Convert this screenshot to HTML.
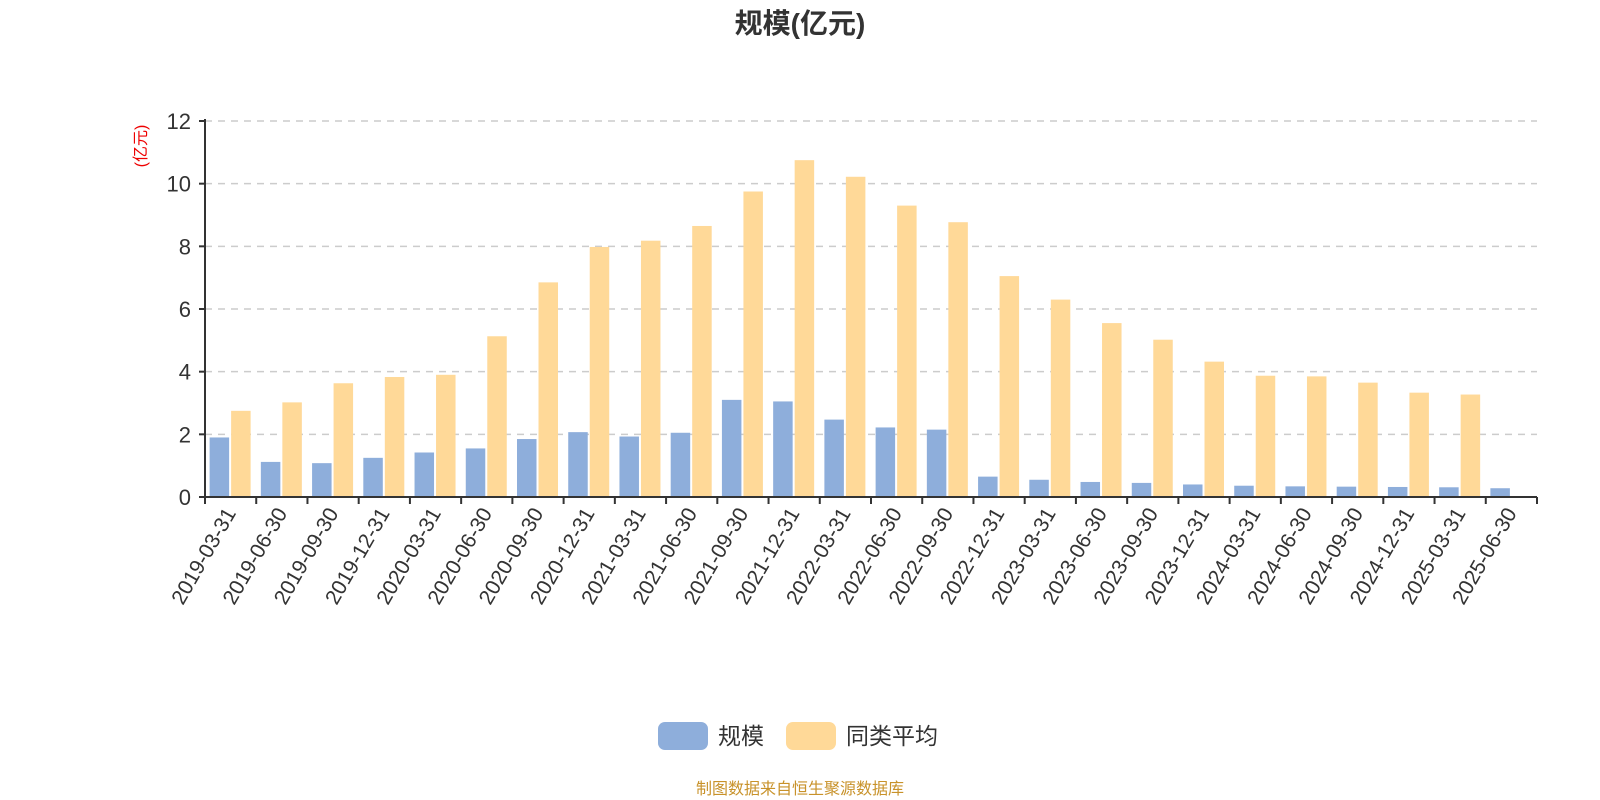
<!DOCTYPE html>
<html><head><meta charset="utf-8"><style>
body{margin:0;background:#fff;}
svg{display:block;font-family:"Liberation Sans","Noto Sans CJK SC",sans-serif;}
</style></head><body>
<svg id="chart" width="1600" height="800">
<text x="800" y="33" text-anchor="middle" font-size="28" font-weight="bold" fill="#333">规模(亿元)</text>
<text transform="translate(146,146) rotate(-90)" text-anchor="middle" font-size="16" fill="#e00">(亿元)</text>
<g id="grid"></g><g id="bars"></g><g id="axes"></g>
<g>
<rect x="658" y="722" width="50" height="28" rx="7" fill="#8eaedb"/>
<text x="718" y="744" font-size="23" fill="#333">规模</text>
<rect x="786" y="722" width="50" height="28" rx="7" fill="#ffd998"/>
<text x="846" y="744" font-size="23" fill="#333">同类平均</text>
</g>
<text x="800" y="794" text-anchor="middle" font-size="16" fill="#c8922a">制图数据来自恒生聚源数据库</text>
</svg>
<script>
const categories=["2019-03-31","2019-06-30","2019-09-30","2019-12-31","2020-03-31","2020-06-30","2020-09-30","2020-12-31","2021-03-31","2021-06-30","2021-09-30","2021-12-31","2022-03-31","2022-06-30","2022-09-30","2022-12-31","2023-03-31","2023-06-30","2023-09-30","2023-12-31","2024-03-31","2024-06-30","2024-09-30","2024-12-31","2025-03-31","2025-06-30"];
const scaleValues=[1.9,1.12,1.08,1.25,1.42,1.55,1.85,2.07,1.93,2.05,3.1,3.05,2.47,2.22,2.15,0.65,0.55,0.48,0.45,0.4,0.36,0.34,0.33,0.32,0.31,0.28];
const avgValues=[2.75,3.02,3.63,3.83,3.9,5.13,6.85,7.98,8.18,8.65,9.75,10.75,10.22,9.3,8.77,7.05,6.3,5.55,5.02,4.32,3.87,3.85,3.65,3.33,3.27,null];
const yTicks=[0,2,4,6,8,10,12];
const NS="http://www.w3.org/2000/svg";
const X0=205,X1=1537,Y0=497,Y1=121,YMAX=12;
const bw=(X1-X0)/categories.length;
function yScale(v){return Y0-(v/YMAX)*(Y0-Y1);}
function xCenter(i){return X0+bw*(i+0.5);}
function mk(tag,attrs,parent){const e=document.createElementNS(NS,tag);for(const k in attrs)e.setAttribute(k,attrs[k]);parent.appendChild(e);return e;}
const grid=document.getElementById('grid'),bars=document.getElementById('bars'),axes=document.getElementById('axes');
yTicks.forEach(t=>{
  const y=yScale(t);
  if(t>0){const l=mk('line',{x1:X0,x2:X1,y1:y,y2:y,stroke:'#ccc','stroke-width':1.5,'stroke-dasharray':'7,6'},grid);
  
  }
  const tk=mk('line',{x1:X0-6,x2:X0,y1:y,y2:y,stroke:'#333','stroke-width':2},axes);
  
  
  const tx=mk('text',{x:X0-14,y:y+8,'text-anchor':'end','font-size':22,fill:'#333'},axes);
  
  
  tx.textContent=t;
});
categories.forEach((c,i)=>{
  const cx=xCenter(i);
  if(scaleValues[i]!=null){const r=mk('rect',{x:cx-21,y:yScale(scaleValues[i]),width:19.5,height:Y0-yScale(scaleValues[i]),fill:'#8eaedb'},bars);
  
  }
  if(avgValues[i]!=null){const r=mk('rect',{x:cx+0.5,y:yScale(avgValues[i]),width:19.5,height:Y0-yScale(avgValues[i]),fill:'#ffd998'},bars);
  
  }
  const tx=mk('text',{transform:`translate(${cx+6},${Y0+16}) rotate(-60)`,'text-anchor':'end','font-size':21,fill:'#333'},axes);
  
  
  tx.textContent=c;
});
for(let i=0;i<=categories.length;i++){
  const x=X0+bw*i;
  const tk=mk('line',{x1:x,x2:x,y1:Y0,y2:Y0+7,stroke:'#333','stroke-width':2},axes);
  
  
}
const ya=mk('line',{x1:X0,x2:X0,y1:Y1-2,y2:Y0,stroke:'#333','stroke-width':2},axes);


const xa=mk('line',{x1:X0-6,x2:X1,y1:Y0,y2:Y0,stroke:'#333','stroke-width':2},axes);


</script>
</body></html>
